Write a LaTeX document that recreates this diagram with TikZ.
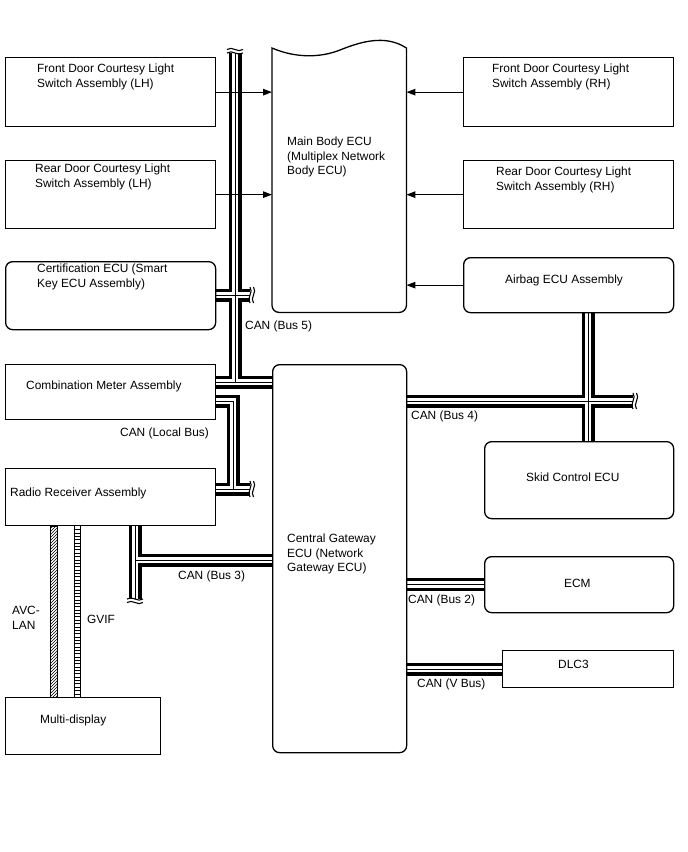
\documentclass[tikz,border=0pt]{standalone}
\usepackage{fontspec}
\setmainfont{Liberation Sans}
\usetikzlibrary{arrows.meta,positioning,backgrounds,patterns}

\begin{document}
\begin{tikzpicture}[
    x=1pt, y=-1pt,
    box/.style={draw, line width=1.3pt, fill=white, anchor=north west, inner sep=0pt},
    rbox/.style={box, rounded corners=7pt},
    txt/.style={font=\fontsize{11.9}{14.5}\selectfont, align=left, inner sep=0pt},
    lbl/.style={txt, anchor=west},
    arrow/.style={-{Triangle[length=9pt, width=6.5pt]}, line width=1.1pt},
    brk/.pic={\draw[line width=1.1pt] (0,-8) .. controls (4,-3) and (-4,3) .. (0,8)
                                    (3.5,-8) .. controls (7.5,-3) and (-0.5,3) .. (3.5,8);},
]
\useasboundingbox (0,0) rectangle (688,852);

% Left column
\node[box, minimum width=210pt, minimum height=69pt] (fdlh) at (5,57) {};
\node[box, minimum width=210pt, minimum height=68pt] (rdlh) at (5,160) {};
\node[rbox, minimum width=210pt, minimum height=68pt] (certecu) at (5,261) {};
\node[box, minimum width=210pt, minimum height=55pt] (cmeter) at (5,364) {};
\node[box, minimum width=210pt, minimum height=57pt] (radio) at (5,468) {};
\node[box, minimum width=155pt, minimum height=57pt] (mdisp) at (5,697) {};

% Main body ECU (torn top edge)
\node[anchor=north west, inner sep=0pt, minimum width=134pt, minimum height=264pt] (mbecu) at (272,48) {};
\draw[line width=1.3pt] (mbecu.west) -- (mbecu.north west)
    .. controls (295,58) and (320,58) .. (340,50)
    .. controls (360,42) and (385,34) .. (mbecu.north east) -- (mbecu.east)
    [rounded corners=7pt] -- (mbecu.south east) -- (mbecu.south west) -- (mbecu.west);

% Central gateway
\node[rbox, minimum width=134pt, minimum height=388pt] (cgw) at (272,364) {};

% Right column
\node[box, minimum width=210pt, minimum height=69pt] (fdrh) at (463,57) {};
\node[box, minimum width=210pt, minimum height=68pt] (rdrh) at (463,160) {};
\node[rbox, minimum width=210pt, minimum height=55pt] (airbag) at (463,257) {};
\node[rbox, minimum width=189pt, minimum height=77pt] (skid) at (484,441) {};
\node[rbox, minimum width=189pt, minimum height=56pt] (ecm) at (484,556) {};
\node[box, minimum width=171pt, minimum height=37pt] (dlc) at (502,650) {};

% Box texts
\node[txt, below right=7pt and 32pt of fdlh.north west] {Front Door Courtesy Light\\Switch Assembly (LH)};
\node[txt, below right=4pt and 30pt of rdlh.north west] {Rear Door Courtesy Light\\Switch Assembly (LH)};
\node[txt, below right=3pt and 32pt of certecu.north west] {Certification ECU (Smart\\Key ECU Assembly)};
\node[lbl] at (26,386) {Combination Meter Assembly};
\node[lbl] at (10,493) {Radio Receiver Assembly};
\node[lbl] at (40,720) {Multi-display};
\node[txt, below right=89pt and 15pt of mbecu.north west] {Main Body ECU\\(Multiplex Network\\Body ECU)};
\node[txt, below right=170pt and 15pt of cgw.north west] {Central Gateway\\ECU (Network\\Gateway ECU)};
\node[txt, below right=7pt and 29pt of fdrh.north west] {Front Door Courtesy Light\\Switch Assembly (RH)};
\node[txt, below right=7pt and 33pt of rdrh.north west] {Rear Door Courtesy Light\\Switch Assembly (RH)};
\node[lbl] at (505,280) {Airbag ECU Assembly};
\node[lbl] at (526,477) {Skid Control ECU};
\node[lbl] at (564,583) {ECM};
\node[lbl] at (558,664) {DLC3};

% Bus labels
\node[lbl] at (245,326) {CAN (Bus 5)};
\node[lbl] at (120,433) {CAN (Local Bus)};
\node[lbl] at (411,416) {CAN (Bus 4)};
\node[lbl] at (178,576) {CAN (Bus 3)};
\node[lbl] at (408,600) {CAN (Bus 2)};
\node[lbl] at (417,684) {CAN (V Bus)};
\node[txt, anchor=north west] at (12,606) {AVC-\\LAN};
\node[lbl] at (87,619) {GVIF};

% Bus corners and cut ends
\coordinate (b5top) at (235,53);
\coordinate (b5j) at (235,382);
\coordinate (b5cert) at (250,295);
\coordinate (lbcorner) at (233,401);
\coordinate (lbend) at (250,489);
\coordinate (b4end) at (633,401);
\coordinate (b4x) at (588,401);
\coordinate (b3corner) at (135,560);
\coordinate (b3end) at (135,599);

% CAN buses
\begin{scope}[on background layer]
\foreach \lw/\col in {13/black, 6.5/white, 1/black}
  \draw[line width=\lw pt, \col]
    (b5top) -- (b5j)
    (cmeter.east |- b5j) -- (cgw.west |- b5j)
    (certecu.east |- b5cert) -- (b5cert)
    (cmeter.east |- lbcorner) -- (lbcorner) -- (lbcorner |- lbend)
    (radio.east |- lbend) -- (lbend)
    (cgw.east |- b4end) -- (b4end)
    (b4x |- airbag.south) -- (b4x |- skid.north)
    (cgw.west |- b3corner) -- (b3corner)
    (b3corner |- radio.south) -- (b3end)
    (cgw.east |- ecm.west) -- (ecm.west)
    (cgw.east |- dlc.west) -- (dlc.west);
\end{scope}
\pic at (b5cert) {brk};
\pic at (lbend) {brk};
\pic at (b4end) {brk};
\pic[rotate=90] at (b5top) {brk};
\pic[rotate=-90] at (b3end) {brk};

% Switch signals
\draw[arrow] (fdlh.east) -- (fdlh.east -| mbecu.west);
\draw[arrow] (rdlh.east) -- (rdlh.east -| mbecu.west);
\draw[arrow] (fdrh.west) -- (fdrh.west -| mbecu.east);
\draw[arrow] (rdrh.west) -- (rdrh.west -| mbecu.east);
\draw[arrow] (airbag.west) -- (airbag.west -| mbecu.east);

% AVC-LAN and GVIF
\draw[line width=0.8pt, pattern=north east lines] ([xshift=45pt]radio.south west) rectangle ([xshift=52pt]mdisp.north west);
\draw[line width=0.8pt] ([xshift=69pt]radio.south west) -- ([xshift=69pt]mdisp.north west)
    ([xshift=75pt]radio.south west) -- ([xshift=75pt]mdisp.north west);
\foreach \k in {1,...,51}
  \draw[line width=0.6pt] ([xshift=69pt, yshift=-\k*3.35pt]radio.south west) -- +(6,0);

\end{tikzpicture}
\end{document}
